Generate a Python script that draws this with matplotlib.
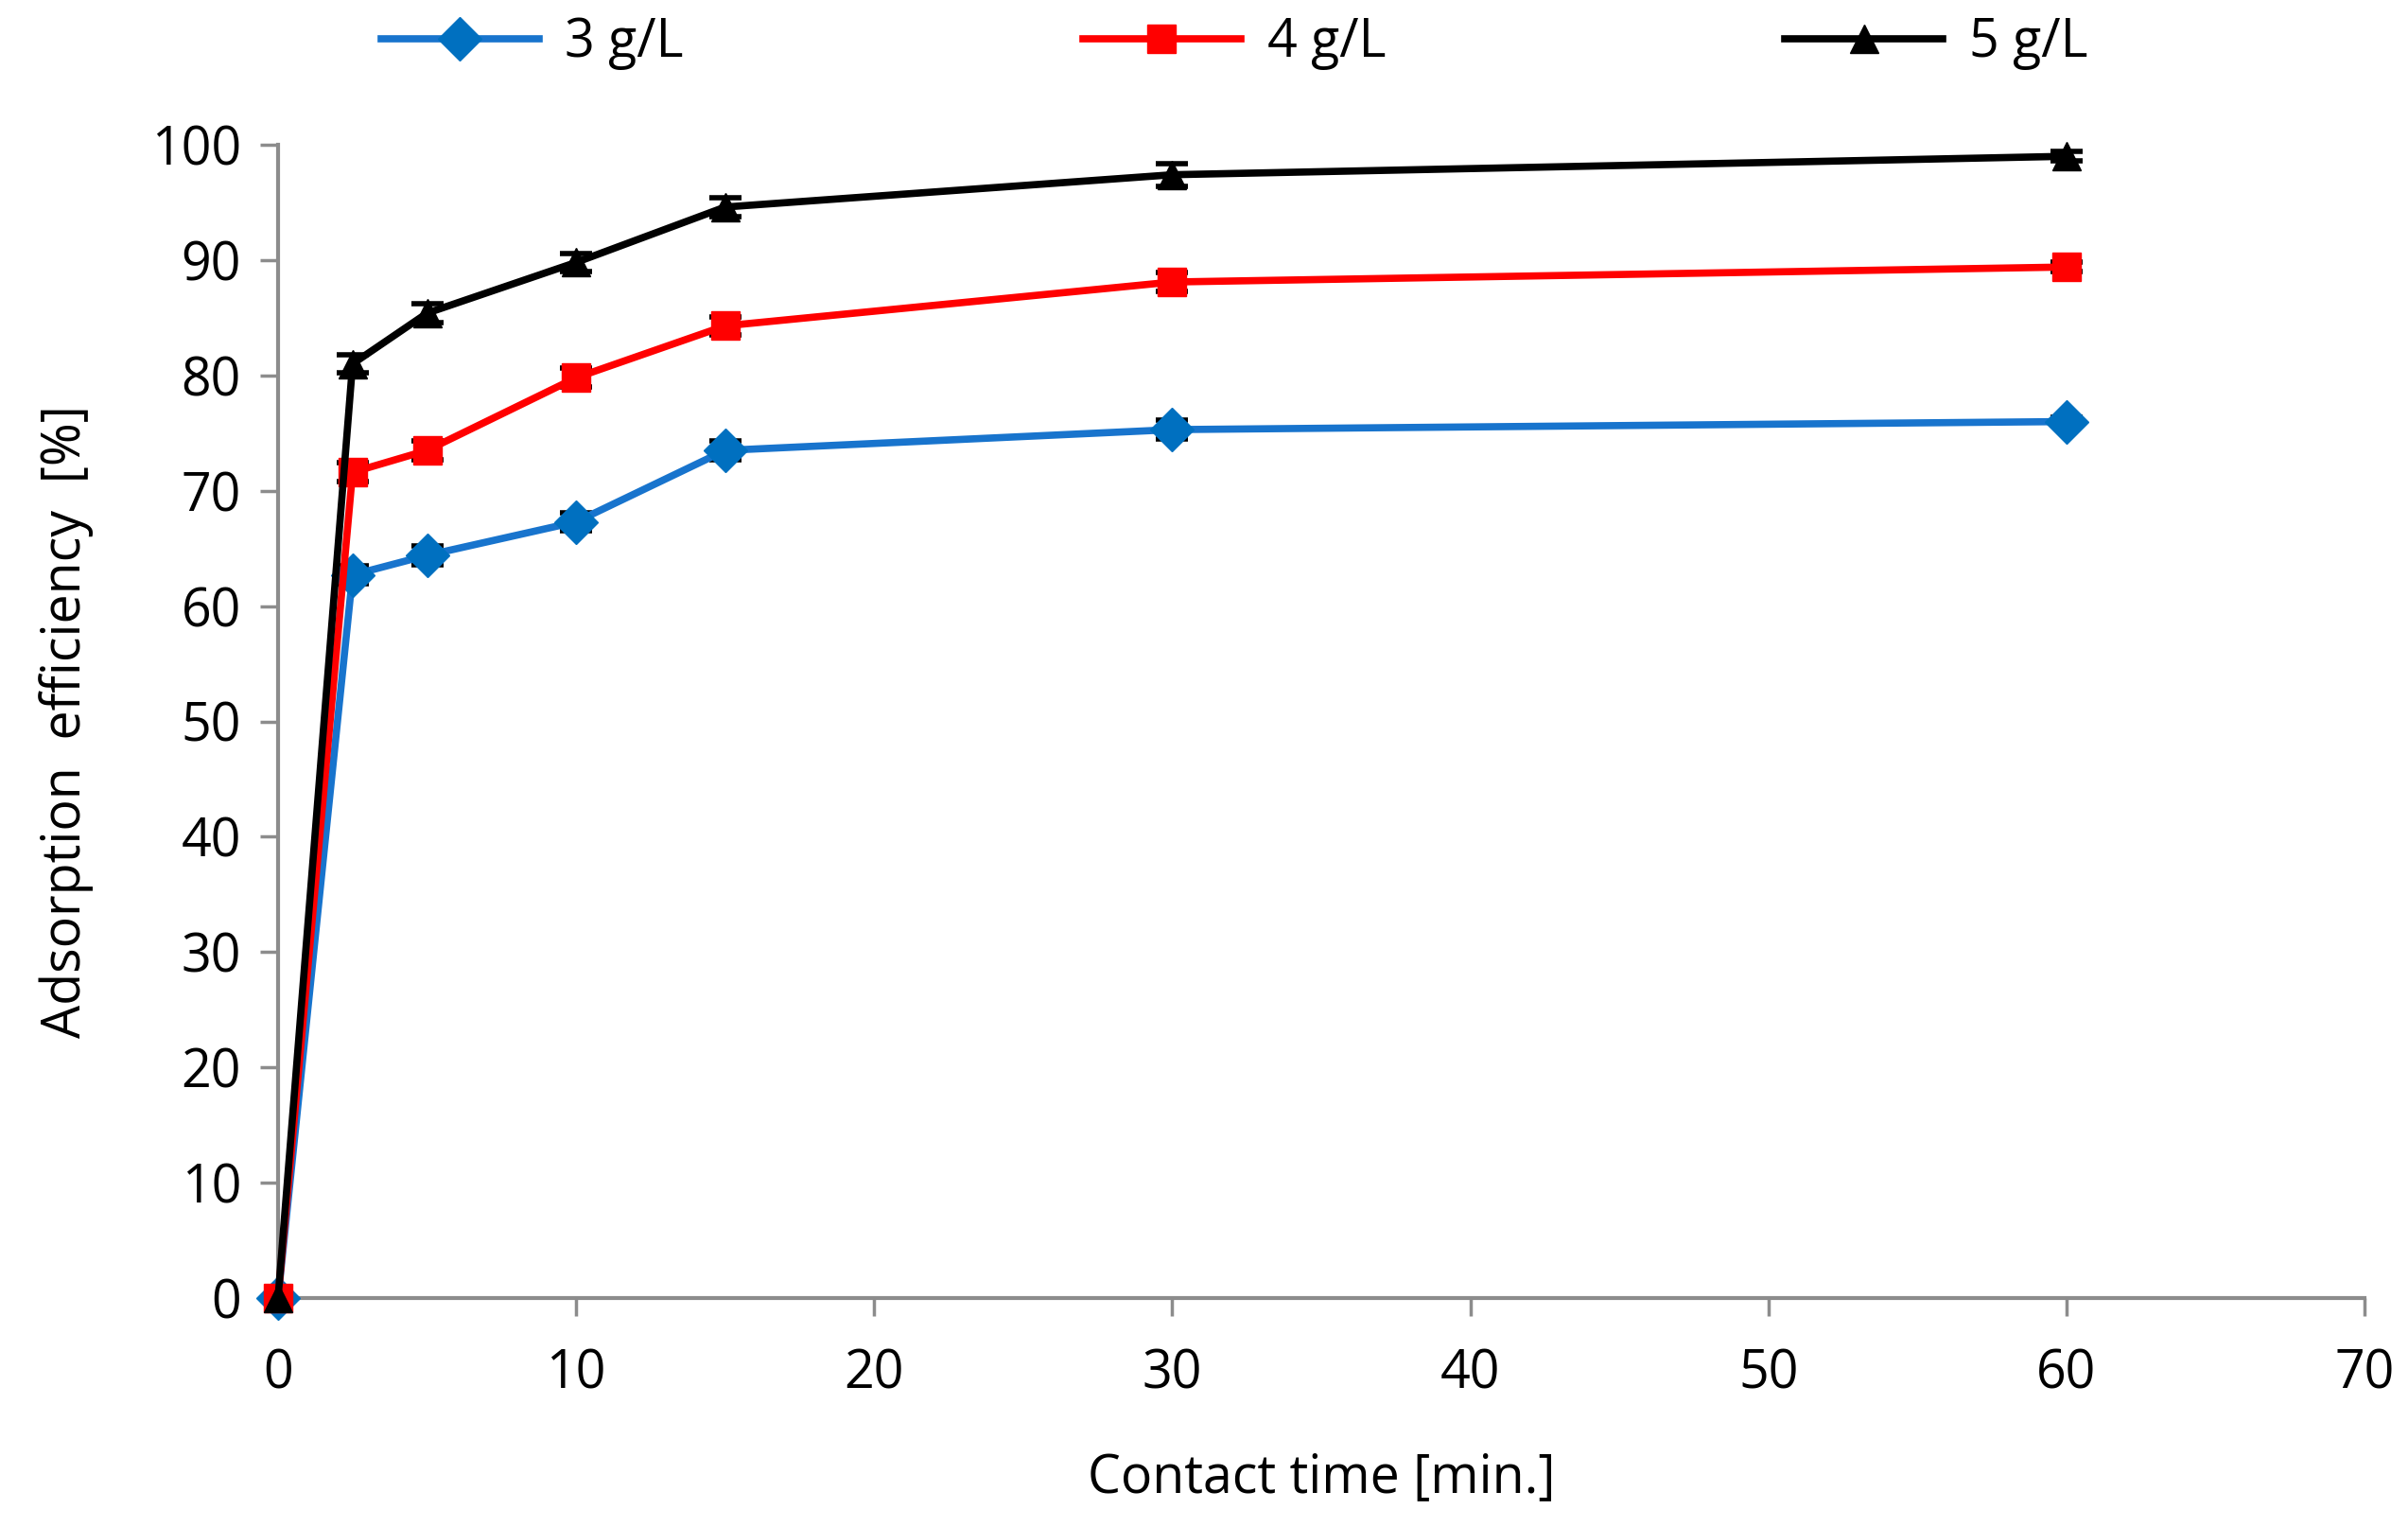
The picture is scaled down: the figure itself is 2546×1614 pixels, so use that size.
import matplotlib
matplotlib.use("Agg")
import matplotlib.pyplot as plt

plt.rcParams['font.family'] = ['Open Sans', 'DejaVu Sans']

time_min = [0, 2.5, 5, 10, 15, 30, 60]
eff_3 = [0, 62.7, 64.4, 67.3, 73.5, 75.3, 76.0]
eff_4 = [0, 71.6, 73.5, 79.8, 84.3, 88.1, 89.4]
eff_5 = [0, 81.0, 85.4, 89.8, 94.6, 97.4, 99.0]
err_3 = [0, 0.8, 0.8, 0.8, 0.8, 0.8, 0.4]
err_4 = [0, 0.8, 0.8, 0.8, 0.8, 0.8, 0.4]
err_5 = [0, 0.8, 0.8, 0.8, 0.8, 1.0, 0.4]
labels = ['3 g/L', '4 g/L', '5 g/L']

fig = plt.figure(figsize=(25.46, 16.14), dpi=100)
ax = fig.add_axes([294/2546, 1 - 1372/1614, (2500-294)/2546, (1372-153)/1614])

styles = [
    (eff_3, err_3, '#1874CD', '#0070C0', 'D', 23),
    (eff_4, err_4, '#FF0000', '#FF0000', 's', 21),
    (eff_5, err_5, '#000000', '#000000', '^', 22),
]
handles = []
for (y, e, lc, mc, m, ms), lab in zip(styles, labels):
    ax.errorbar(time_min, y, yerr=e, fmt='none', ecolor='black', elinewidth=3,
                capsize=12, capthick=4, zorder=2)
    h, = ax.plot(time_min, y, color=lc, lw=5.5, marker=m, markersize=ms,
                 markerfacecolor=mc, markeredgecolor=mc, label=lab, zorder=3)
    handles.append(h)

ax.set_xlim(0, 70)
ax.set_ylim(0, 100)
ax.set_xticks(range(0, 71, 10))
ax.set_yticks(range(0, 101, 10))
for s in ['top', 'right']:
    ax.spines[s].set_visible(False)
for s in ['left', 'bottom']:
    ax.spines[s].set_color('#8C8C8C')
    ax.spines[s].set_linewidth(3)
ax.tick_params(axis='both', colors='#8C8C8C', width=2.5, length=14, labelsize=40,
               labelcolor='black')
ax.tick_params(axis='x', pad=24)
ax.tick_params(axis='y', pad=14)
ax.set_xlabel('Contact time [min.]', fontsize=40, labelpad=38)
ax.set_ylabel('Adsorption  efficiency  [%]', fontsize=40, labelpad=44)
for ln in ax.lines:
    ln.set_clip_on(False)
for c in ax.collections:
    c.set_clip_on(False)

fig.legend(handles=handles, labels=labels, loc='center left',
           bbox_to_anchor=(403/2546, 1 - 46/1614), borderaxespad=0, borderpad=0,
           ncol=3, frameon=False, fontsize=40, columnspacing=7.6, handlelength=3.0,
           handletextpad=0.5)

fig.savefig('out.png', dpi=100, facecolor='white')
